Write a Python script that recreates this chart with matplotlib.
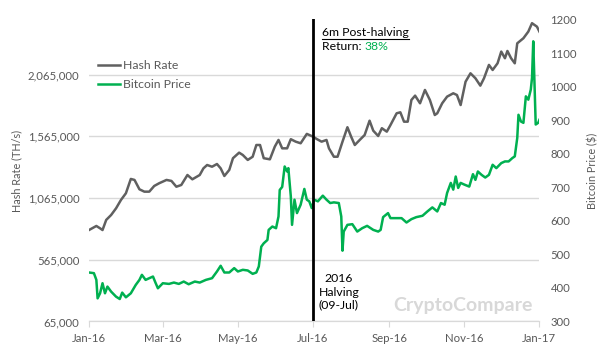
import matplotlib.pyplot as plt
import matplotlib.dates as mdates
from matplotlib.ticker import FuncFormatter
import pandas as pd

# Data
hash_dates = ['2016-01-01', '2016-01-07', '2016-01-10', '2016-01-12', '2016-01-15', '2016-01-19',
              '2016-01-23', '2016-01-27', '2016-01-31', '2016-02-04', '2016-02-07', '2016-02-11',
              '2016-02-15', '2016-02-19', '2016-02-23', '2016-02-27', '2016-03-04', '2016-03-08',
              '2016-03-12', '2016-03-16', '2016-03-21', '2016-03-25', '2016-03-31', '2016-04-03',
              '2016-04-06', '2016-04-10', '2016-04-14', '2016-04-17', '2016-04-20', '2016-04-24',
              '2016-04-27', '2016-05-02', '2016-05-05', '2016-05-09', '2016-05-13', '2016-05-16',
              '2016-05-19', '2016-05-22', '2016-05-27', '2016-05-31', '2016-06-03', '2016-06-06',
              '2016-06-10', '2016-06-13', '2016-06-17', '2016-06-21', '2016-06-26', '2016-07-01',
              '2016-07-04', '2016-07-08', '2016-07-12', '2016-07-14', '2016-07-18', '2016-07-21',
              '2016-07-25', '2016-07-29', '2016-08-01', '2016-08-04', '2016-08-08', '2016-08-12',
              '2016-08-16', '2016-08-19', '2016-08-23', '2016-08-26', '2016-08-30', '2016-09-02',
              '2016-09-07', '2016-09-10', '2016-09-13', '2016-09-16', '2016-09-19', '2016-09-22',
              '2016-09-26', '2016-09-30', '2016-10-04', '2016-10-08', '2016-10-10', '2016-10-14',
              '2016-10-18', '2016-10-23', '2016-10-26', '2016-10-29', '2016-11-02', '2016-11-06',
              '2016-11-10', '2016-11-14', '2016-11-17', '2016-11-21', '2016-11-24', '2016-11-28',
              '2016-12-01', '2016-12-04', '2016-12-06', '2016-12-09', '2016-12-12', '2016-12-14',
              '2016-12-19', '2016-12-23', '2016-12-26', '2016-12-30', '2017-01-01']
hash_rate = [806000, 839000, 820000, 806000, 888000, 928000,
             982000, 1050000, 1104000, 1220000, 1212000, 1136000,
             1117000, 1117000, 1163000, 1185000, 1212000, 1204000,
             1157000, 1171000, 1252000, 1217000, 1252000, 1306000,
             1333000, 1319000, 1341000, 1306000, 1244000, 1293000,
             1388000, 1433000, 1414000, 1374000, 1400000, 1495000,
             1495000, 1388000, 1379000, 1482000, 1536000, 1468000,
             1468000, 1542000, 1522000, 1509000, 1585000, 1563000,
             1544000, 1522000, 1536000, 1468000, 1400000, 1400000,
             1522000, 1639000, 1563000, 1495000, 1536000, 1576000,
             1692000, 1611000, 1568000, 1631000, 1603000, 1657000,
             1752000, 1760000, 1684000, 1684000, 1860000, 1895000,
             1833000, 1941000, 1860000, 1738000, 1752000, 1833000,
             1887000, 1914000, 1900000, 1819000, 2008000, 2076000,
             2036000, 1976000, 2036000, 2144000, 2103000, 2157000,
             2252000, 2198000, 2257000, 2198000, 2157000, 2319000,
             2360000, 2414000, 2482000, 2454000, 2414000]

price_dates = ['2016-01-01', '2016-01-05', '2016-01-07', '2016-01-08', '2016-01-10', '2016-01-12',
               '2016-01-14', '2016-01-16', '2016-01-19', '2016-01-23', '2016-01-26', '2016-01-28',
               '2016-01-31', '2016-02-04', '2016-02-08', '2016-02-11', '2016-02-13', '2016-02-16',
               '2016-02-22', '2016-02-24', '2016-02-26', '2016-03-01', '2016-03-06', '2016-03-10',
               '2016-03-14', '2016-03-18', '2016-03-22', '2016-03-27', '2016-03-31', '2016-04-05',
               '2016-04-10', '2016-04-14', '2016-04-17', '2016-04-20', '2016-04-24', '2016-04-28',
               '2016-05-01', '2016-05-05', '2016-05-09', '2016-05-13', '2016-05-16', '2016-05-18',
               '2016-05-20', '2016-05-22', '2016-05-25', '2016-05-26', '2016-05-29', '2016-06-01',
               '2016-06-03', '2016-06-04', '2016-06-06', '2016-06-08', '2016-06-10', '2016-06-11',
               '2016-06-13', '2016-06-14', '2016-06-16', '2016-06-18', '2016-06-21', '2016-06-24',
               '2016-06-26', '2016-06-28', '2016-06-30', '2016-07-02', '2016-07-05', '2016-07-09',
               '2016-07-12', '2016-07-15', '2016-07-18', '2016-07-22', '2016-07-24', '2016-07-25',
               '2016-07-26', '2016-07-29', '2016-08-02', '2016-08-06', '2016-08-10', '2016-08-14',
               '2016-08-19', '2016-08-23', '2016-08-25', '2016-08-27', '2016-08-31', '2016-09-02',
               '2016-09-07', '2016-09-11', '2016-09-15', '2016-09-19', '2016-09-23', '2016-09-28',
               '2016-10-02', '2016-10-06', '2016-10-10', '2016-10-13', '2016-10-16', '2016-10-18',
               '2016-10-21', '2016-10-23', '2016-10-25', '2016-10-27', '2016-10-29', '2016-11-01',
               '2016-11-05', '2016-11-08', '2016-11-10', '2016-11-12', '2016-11-15', '2016-11-18',
               '2016-11-21', '2016-11-24', '2016-11-27', '2016-12-01', '2016-12-04', '2016-12-07',
               '2016-12-10', '2016-12-12', '2016-12-14', '2016-12-15', '2016-12-17', '2016-12-19',
               '2016-12-21', '2016-12-23', '2016-12-25', '2016-12-26', '2016-12-27', '2016-12-28',
               '2016-12-29', '2016-12-31', '2017-01-01']
price = [446, 444, 424, 369, 384, 414,
         384, 404, 389, 374, 367, 386,
         372, 384, 409, 424, 439, 424,
         434, 416, 399, 414, 412, 416,
         412, 419, 411, 419, 416, 424,
         429, 449, 466, 446, 446, 459,
         449, 454, 452, 442, 446, 464,
         523, 533, 543, 573, 583, 578,
         613, 692, 701, 762, 747, 757,
         673, 588, 663, 623, 648, 695,
         663, 658, 638, 663, 658, 675,
         663, 653, 655, 653, 613, 511,
         568, 588, 590, 568, 578, 585,
         573, 568, 573, 611, 623, 608,
         608, 608, 595, 605, 611, 615,
         628, 640, 628, 653, 648, 683,
         713, 693, 732, 698, 713, 708,
         702, 739, 722, 747, 737, 729,
         737, 767, 757, 772, 777, 777,
         787, 792, 847, 916, 896, 892,
         971, 961, 991, 1026, 1135, 1016,
         887, 892, 901]

hash_ticks = [65000, 565000, 1065000, 1565000, 2065000]
price_ticks = [300, 400, 500, 600, 700, 800, 900, 1000, 1100, 1200]

gray = '#606060'
green = '#00b050'
label_color = '#595959'
grid_color = '#d9d9d9'
tick_fs = 8.2
text_fs = 8.8

plt.rcParams['font.family'] = ['Lato', 'DejaVu Sans']

fig = plt.figure(figsize=(6, 3.55), dpi=100)
ax = fig.add_axes([0.1483, 0.0944, 0.7507, 0.8507])
ax2 = ax.twinx()

ax.plot(pd.to_datetime(hash_dates), hash_rate, color=gray, lw=1.8, label='Hash Rate', zorder=3)
ax2.plot(pd.to_datetime(price_dates), price, color=green, lw=1.8, label='Bitcoin Price', zorder=3)

# Axes limits and ticks
ax.set_xlim(pd.Timestamp('2016-01-01'), pd.Timestamp('2017-01-01'))
ax.set_ylim(65000, 2512000)
ax2.set_ylim(300, 1200)
ax.set_yticks(hash_ticks)
ax2.set_yticks(price_ticks)
ax.yaxis.set_major_formatter(FuncFormatter(lambda v, p: f'{int(v):,}'))
ax.xaxis.set_major_locator(mdates.MonthLocator(bymonth=[1, 3, 5, 7, 9, 11]))
ax.xaxis.set_major_formatter(mdates.DateFormatter('%b-%y'))

ax.grid(axis='y', color=grid_color, lw=1)
ax.set_axisbelow(True)
for a in (ax, ax2):
    for s in ('top', 'left', 'right'):
        a.spines[s].set_visible(False)
    a.spines['bottom'].set_color(grid_color)
ax.tick_params(axis='y', length=0, labelsize=tick_fs, labelcolor=label_color, pad=7)
ax2.tick_params(axis='y', length=0, labelsize=tick_fs, labelcolor=label_color, pad=8)
ax.tick_params(axis='x', length=4, color=grid_color, labelsize=tick_fs, labelcolor=label_color, pad=4)

ax.set_ylabel('Hash Rate (TH/s)', fontsize=7.8, color=label_color, labelpad=4)
ax2.set_ylabel('Bitcoin Price ($)', fontsize=7.8, color=label_color, labelpad=7)

# Halving line
ax2.axvline(pd.Timestamp('2016-07-01'), color='black', lw=2, zorder=4)
ax2.text(339 / 600, 1 - 292 / 355, '2016\nHalving\n(09-Jul)', transform=fig.transFigure,
         ha='center', va='center', fontsize=text_fs, color='black', linespacing=1.25)

t1 = fig.text(322 / 600, 1 - 32 / 355, '6m Post-halving', ha='left', va='center',
              fontsize=text_fs, color='black')
t2 = fig.text(322 / 600, 1 - 47 / 355, 'Return: ', ha='left', va='center',
              fontsize=text_fs, color='black')
fig.canvas.draw()
r = fig.canvas.get_renderer()
b1 = t1.get_window_extent(r)
fig.add_artist(plt.Line2D([b1.x0 / 600, b1.x1 / 600], [(b1.y0 - 1) / 355, (b1.y0 - 1) / 355],
                          color='black', lw=0.8, transform=fig.transFigure))
b2 = t2.get_window_extent(r)
fig.text(b2.x1 / 600, 1 - 47 / 355, '38%', ha='left', va='center', fontsize=text_fs, color=green)

# Watermark
fig.text(463 / 600, 1 - 305 / 355, 'CryptoCompare', ha='center', va='center',
         fontsize=14, fontweight='bold', color='#d8d8d8', zorder=1)

# Legend
h1, l1 = ax.get_legend_handles_labels()
h2, l2 = ax2.get_legend_handles_labels()
ax2.legend(h1 + h2, l1 + l2, loc='upper left', bbox_to_anchor=(92 / 600, 1 - 54 / 355),
           bbox_transform=fig.transFigure, frameon=False, fontsize=text_fs, borderpad=0,
           handlelength=1.8, handletextpad=0.2, labelspacing=0.65, labelcolor=label_color)

fig.savefig('out.png', dpi=100)
